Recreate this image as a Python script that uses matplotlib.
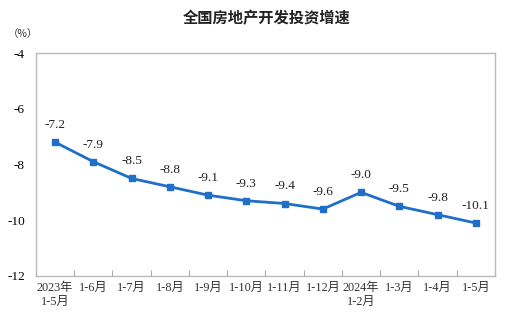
import matplotlib
matplotlib.use("Agg")
import matplotlib.pyplot as plt
import numpy as np

categories = ["2023年\n1-5月", "1-6月", "1-7月", "1-8月", "1-9月", "1-10月", "1-11月",
              "1-12月", "2024年\n1-2月", "1-3月", "1-4月", "1-5月"]
values = [-7.2, -7.9, -8.5, -8.8, -9.1, -9.3, -9.4, -9.6, -9.0, -9.5, -9.8, -10.1]
yticks = [-4, -6, -8, -10, -12]

fam = ['Liberation Serif', 'Noto Sans CJK SC']
fig = plt.figure(figsize=(5.18, 3.26), dpi=100)
ax = fig.add_axes([0.0695, 0.1534, 0.886, 0.684])

x = np.arange(len(values)) + 0.5
color = '#1f6fc8'
ax.plot(x, values, color=color, lw=2, marker='s', ms=4.5, mfc=color, mec=color)
for xi, v in zip(x, values):
    ax.annotate(f"{v:.1f}", (xi, v), xytext=(0, 8), textcoords='offset points',
                ha='center', va='bottom', fontsize=9.5, family=fam, color='#222222')

ax.set_xlim(0, len(values))
ax.set_ylim(-12, -4)
ax.set_yticks(yticks)
ax.set_yticklabels([str(t) for t in yticks], family=fam, fontsize=9.5)
ax.set_xticks(np.arange(0, len(values) + 1))
ax.set_xticklabels([])
ax.set_xticks(x, minor=True)
ax.set_xticklabels(categories, minor=True, family=fam, fontsize=8.8, color='#333333', linespacing=1.3)
ax.tick_params(axis='x', which='major', direction='in', length=4, color='#aaaaaa')
ax.tick_params(axis='x', which='minor', length=0, pad=4)
ax.tick_params(axis='y', length=0, pad=8)
for s in ax.spines.values():
    s.set_color('#bbbbbb')
    s.set_linewidth(1)

fig.text(0.515, 0.945, "全国房地产开发投资增速", ha='center', va='center', fontsize=11,
         family=['Noto Sans CJK SC'], fontweight='bold', color='#222222')
fig.text(0.045, 0.897, "（%）", ha='center', va='center', fontsize=7.5,
         family=['Noto Sans CJK SC', 'DejaVu Sans'], color='#333333')

fig.savefig("out.png", dpi=100)
